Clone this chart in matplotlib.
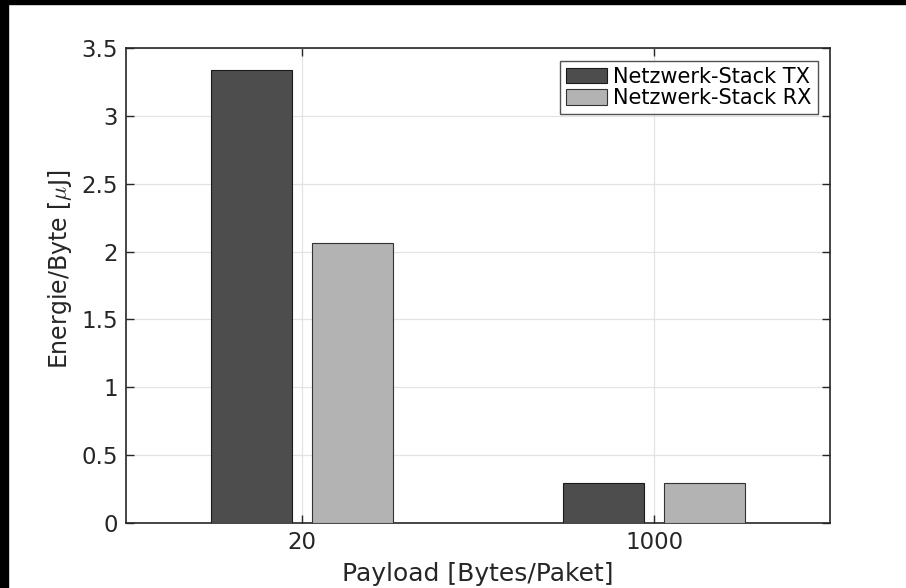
import matplotlib
matplotlib.use('Agg')
import matplotlib.pyplot as plt
from matplotlib.patches import Rectangle
import numpy as np

payloads = ['20', '1000']
tx_energy = [3.338, 0.293]
rx_energy = [2.061, 0.293]
series_names = ['Netzwerk-Stack TX', 'Netzwerk-Stack RX']

plt.rcParams['font.family'] = ['DejaVu Sans']
plt.rcParams['mathtext.fontset'] = 'cm'

fig = plt.figure(figsize=(9.06, 5.88), dpi=100)
ax = fig.add_axes([126 / 906, 1 - 523 / 588, 704 / 906, 475 / 588])

x = np.arange(1, len(payloads) + 1)
width = 0.23
offset = 0.143
ax.bar(x - offset, tx_energy, width, color='#4d4d4d', edgecolor='#1a1a1a',
       linewidth=0.8, label=series_names[0], zorder=3)
ax.bar(x + offset, rx_energy, width, color='#b3b3b3', edgecolor='#333333',
       linewidth=0.8, label=series_names[1], zorder=3)

ax.set_xlim(0.5, 2.5)
ax.set_ylim(0, 3.5)
ax.set_xticks(x)
ax.set_xticklabels(payloads)
ax.set_yticks(np.arange(0, 3.51, 0.5))
ax.set_yticklabels(['0', '0.5', '1', '1.5', '2', '2.5', '3', '3.5'])

ax.grid(True, color='#e3e3e3', linewidth=0.9, zorder=0)
ax.set_axisbelow(True)
ax.tick_params(direction='in', length=6, width=1, top=True, right=True,
               labelsize=16.5, colors='#262626', pad=6)
for s in ax.spines.values():
    s.set_linewidth(1.2)
    s.set_color('#262626')

ax.set_xlabel('Payload [Bytes/Paket]', fontsize=18, color='#262626')
ax.set_ylabel(r'Energie/Byte [$\mu$J]', fontsize=17, color='#262626')
ax.xaxis.set_label_coords(0.5, -0.082)
ax.yaxis.set_label_coords(-0.074, 0.533)

leg = ax.legend(loc='upper right', fontsize=15, frameon=True, fancybox=False,
                borderpad=0.3, labelspacing=0.05, handlelength=1.95,
                handleheight=0.8, handletextpad=0.3, borderaxespad=0.6)
leg.get_frame().set_edgecolor('#262626')
leg.get_frame().set_linewidth(1.0)

# black strips along top and left edge, as in the reference image
fig.add_artist(Rectangle((0, 1 - 4 / 588), 1, 4 / 588, transform=fig.transFigure,
                         color='black', zorder=10))
fig.add_artist(Rectangle((0, 0), 8 / 906, 1, transform=fig.transFigure,
                         color='black', zorder=10))

fig.savefig('out.png', dpi=100)
